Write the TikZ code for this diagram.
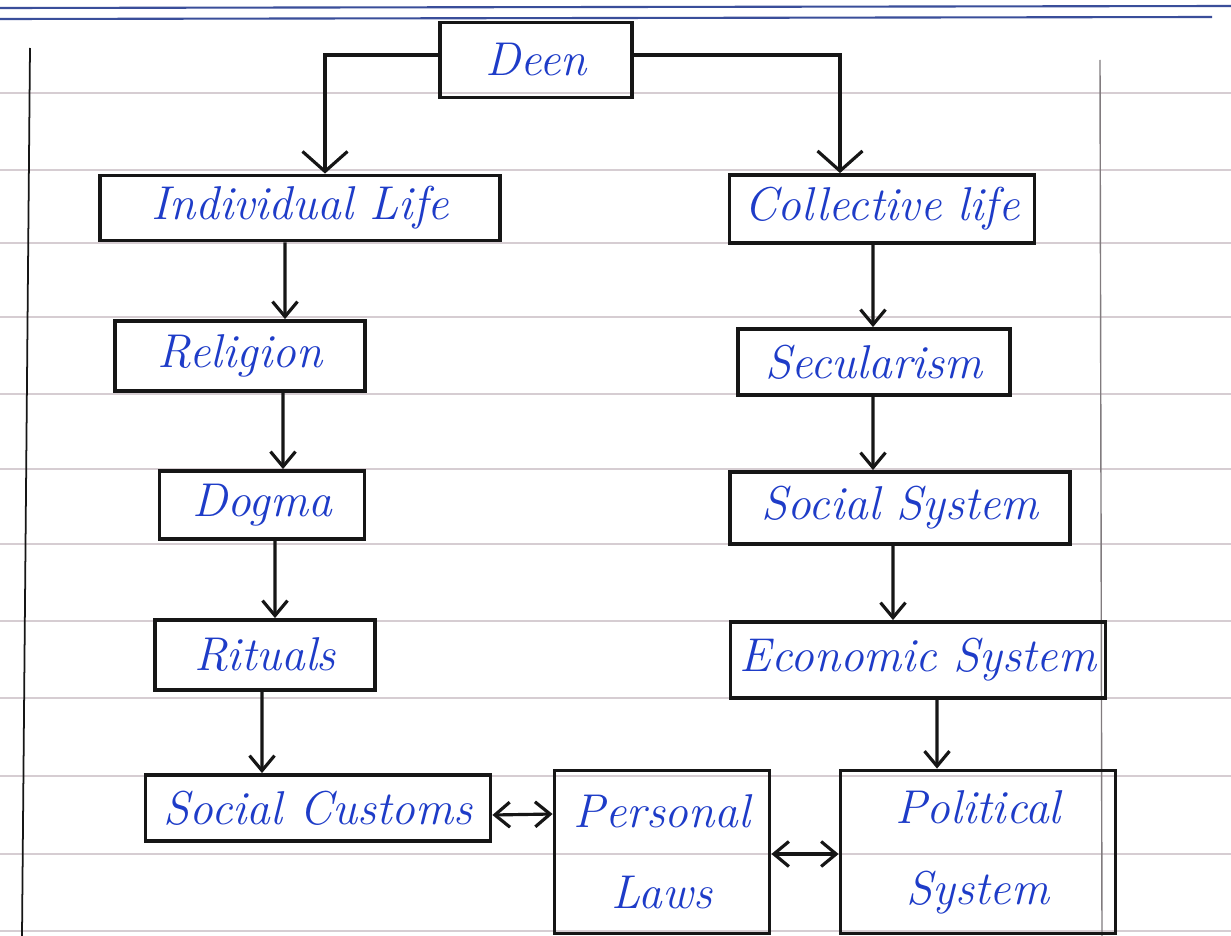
\documentclass[tikz,border=0pt]{standalone}
\usepackage{fontspec}
\usetikzlibrary{arrows.meta, positioning, calc}
\definecolor{inkblue}{HTML}{1E3CC8}
\definecolor{ruling}{HTML}{D6CDD2}
\definecolor{topline}{HTML}{3A4E9A}
\definecolor{pencil}{HTML}{161616}

\begin{document}
\begin{tikzpicture}[
  x=0.02cm, y=-0.02cm,
  >={Straight Barb[length=3mm, width=5mm]},
  box/.style 2 args={
    draw=pencil, line width=2.2pt, minimum width=#1, minimum height=#2,
    font=\fontsize{27}{32}\selectfont\itshape, text=inkblue,
    align=center, inner sep=4pt},
  arr/.style={->, line width=1.8pt, pencil},
  bigarr/.style={arr, -{Straight Barb[length=4mm, width=9mm]}},
  dbl/.style={<->, line width=1.8pt, pencil},
]

% Ruled page
\useasboundingbox (0,0) rectangle (1231,936);
\fill[white] (0,0) rectangle (1231,936);
\foreach \y in {93,170,243,317,394,469,544,621,698,776,854,931}
  \draw[ruling, line width=0.8pt] (0,\y) -- (1231,\y);
\draw[topline, line width=1.2pt] (0,8) -- (1231,6);
\draw[topline, line width=1.2pt] (0,19) -- (1212,17);
\draw[pencil, line width=1pt] (30,48) -- (22,936);
\draw[ruling!60!black, line width=0.8pt] (1100,60) -- (1102,936);

% === Top ===
\node[box={3.84cm}{1.5cm}] (deen) at (536,60) {Deen};

% === Left column ===
\node[box={8cm}{1.3cm}] (indiv) at (300,208) {Individual Life};
\node[box={5cm}{1.4cm}] (rel) at (240,356) {Religion};
\node[box={4.1cm}{1.36cm}] (dog) at (262,505) {Dogma};
\node[box={4.4cm}{1.4cm}] (rit) at (265,655) {Rituals};
\node[box={6.9cm}{1.32cm}] (cust) at (318,808) {Social Customs};

% === Right column ===
\node[box={6.1cm}{1.36cm}] (coll) at (882,209) {Collective life};
\node[box={5.44cm}{1.32cm}] (sec) at (874,362) {Secularism};
\node[box={6.8cm}{1.44cm}] (soc) at (900,508) {Social System};
\node[box={7.5cm}{1.52cm}] (eco) at (918,660) {Economic System};

% === Bottom ===
\node[box={4.3cm}{3.26cm}] (pers) at (662,852) {Personal\\[0.5cm]Laws};
\node[box={5.5cm}{3.26cm}] (pol) at (978,852) {Political\\[0.5cm]System};

% Deen splits
\draw[bigarr] ([yshift=1mm]deen.west) -| ([xshift=5mm]indiv.north);
\draw[bigarr] ([yshift=1mm]deen.east) -| ([xshift=-8.4mm]coll.north);

% Left chain
\draw[arr] ([xshift=-3mm]indiv.south) -- ([xshift=9mm]rel.north);
\draw[arr] ([xshift=8.6mm]rel.south) -- ([xshift=4.2mm]dog.north);
\draw[arr] ([xshift=2.6mm]dog.south) -- ([xshift=2mm]rit.north);
\draw[arr] ([xshift=-0.6mm]rit.south) -- ([xshift=-11.2mm]cust.north);

% Right chain
\draw[arr] ([xshift=-1.8mm]coll.south) -- ([xshift=-0.2mm]sec.north);
\draw[arr] ([xshift=-0.2mm]sec.south) -- ([xshift=-5.4mm]soc.north);
\draw[arr] ([xshift=-1.4mm]soc.south) -- ([xshift=-5mm]eco.north);
\draw[arr] ([xshift=3.8mm]eco.south) -- ([xshift=-8.2mm]pol.north);

% Two-way links
\draw[dbl] ([yshift=-1.4mm]cust.east) -- ([yshift=7.6mm]pers.west);
\draw[dbl] ([yshift=-0.4mm]pers.east) -- ([yshift=-0.4mm]pol.west);

\end{tikzpicture}
\end{document}
